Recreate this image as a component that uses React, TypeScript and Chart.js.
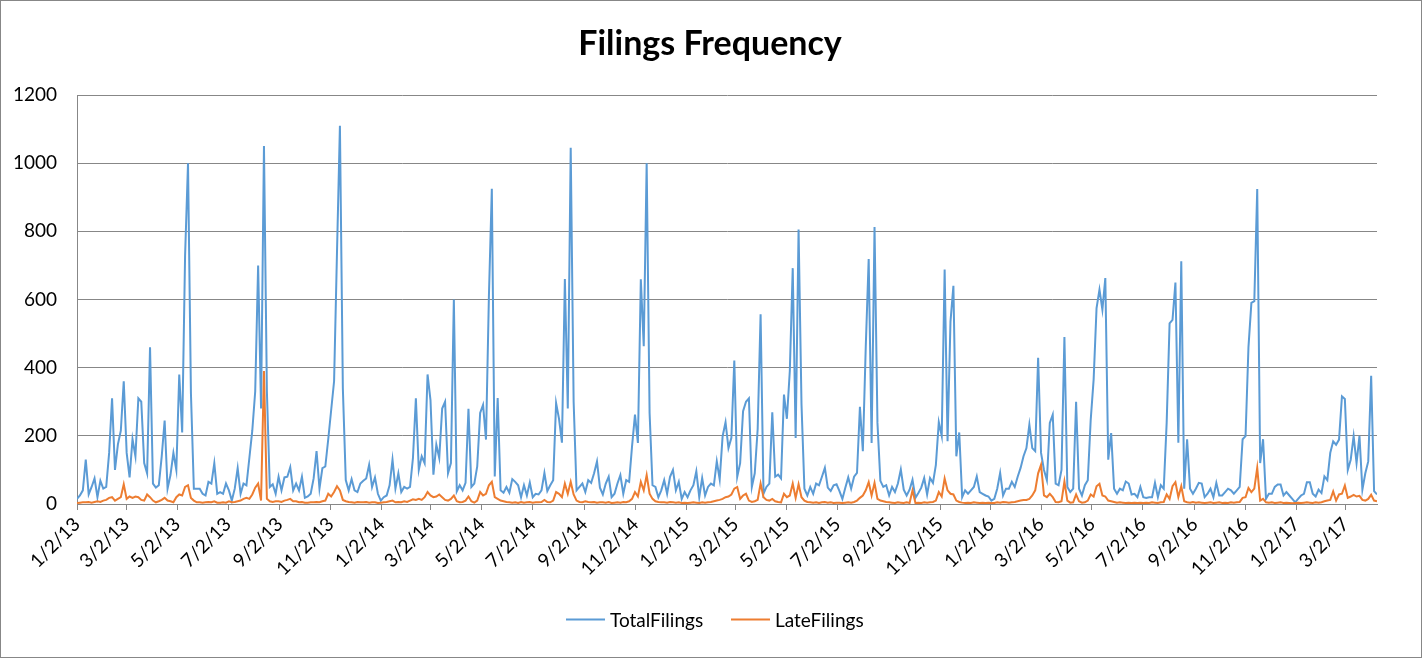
import React, { useEffect, useRef } from 'react';
import { Chart, registerables } from 'chart.js';

Chart.register(...registerables);

const TITLE = 'Filings Frequency';
const SERIES_NAMES = ['TotalFilings', 'LateFilings'];
const SERIES_COLORS = ['#5B9BD5', '#ED7D31'];

// sampling of the daily series (days between samples) and axis end (days after 1/2/13)
const STEP_DAYS = 3.5;
const AXIS_END_DAYS = 1557.5;

const TICK_LABELS = [
  '1/2/13', '3/2/13', '5/2/13', '7/2/13', '9/2/13', '11/2/13',
  '1/2/14', '3/2/14', '5/2/14', '7/2/14', '9/2/14', '11/2/14',
  '1/2/15', '3/2/15', '5/2/15', '7/2/15', '9/2/15', '11/2/15',
  '1/2/16', '3/2/16', '5/2/16', '7/2/16', '9/2/16', '11/2/16',
  '1/2/17', '3/2/17',
];

const Y_TICKS = [0, 200, 400, 600, 800, 1000, 1200];

const TOTAL_FILINGS = [
  15, 25, 40, 130, 28, 50, 75, 20, 68, 45,
  50, 150, 310, 100, 175, 215, 360, 150, 78, 190,
  140, 310, 300, 120, 90, 460, 60, 48, 55, 140,
  245, 45, 85, 150, 100, 380, 210, 730, 1000, 325,
  45, 45, 45, 30, 25, 65, 60, 120, 30, 35,
  30, 60, 40, 10, 45, 105, 30, 60, 55, 135,
  215, 330, 700, 280, 1050, 330, 50, 58, 30, 80,
  40, 78, 80, 108, 40, 60, 40, 80, 18, 22,
  30, 75, 155, 45, 105, 110, 190, 275, 360, 740,
  1110, 340, 70, 40, 73, 40, 35, 60, 68, 75,
  115, 50, 78, 30, 10, 20, 25, 55, 130, 45,
  90, 35, 50, 45, 50, 135, 310, 100, 140, 120,
  380, 305, 86, 174, 135, 280, 300, 90, 120, 600,
  37, 55, 40, 62, 279, 50, 60, 110, 267, 291,
  189, 610, 925, 81, 311, 40, 33, 50, 33, 73,
  65, 55, 20, 55, 25, 63, 20, 30, 28, 40,
  91, 38, 55, 70, 296, 250, 180, 660, 280, 1045,
  300, 40, 50, 60, 35, 70, 62, 90, 125, 48,
  28, 60, 80, 20, 30, 60, 85, 30, 70, 65,
  170, 262, 179, 659, 463, 1000, 267, 55, 50, 20,
  40, 70, 30, 80, 100, 40, 65, 15, 35, 20,
  40, 55, 96, 20, 76, 25, 50, 60, 55, 125,
  72, 199, 240, 164, 194, 421, 80, 120, 272, 300,
  310, 50, 90, 220, 557, 30, 50, 60, 269, 80,
  86, 75, 321, 250, 390, 692, 194, 805, 293, 45,
  25, 50, 30, 60, 55, 80, 106, 48, 38, 55,
  58, 38, 15, 48, 78, 45, 80, 91, 285, 155,
  462, 719, 179, 813, 238, 68, 50, 55, 25, 50,
  35, 60, 101, 42, 25, 42, 71, 18, 32, 48,
  76, 28, 76, 62, 115, 240, 200, 688, 184, 535,
  640, 140, 210, 20, 40, 30, 40, 50, 81, 35,
  30, 25, 22, 10, 15, 45, 91, 25, 45, 45,
  65, 50, 80, 106, 140, 164, 233, 164, 155, 429,
  150, 100, 70, 238, 262, 60, 55, 100, 490, 50,
  35, 45, 300, 45, 25, 55, 70, 247, 365, 575,
  629, 570, 663, 130, 208, 45, 30, 45, 40, 66,
  60, 28, 30, 20, 50, 20, 18, 20, 20, 62,
  20, 55, 45, 238, 530, 540, 650, 180, 712, 45,
  190, 45, 30, 45, 62, 60, 20, 30, 45, 20,
  62, 25, 25, 35, 45, 40, 30, 40, 50, 190,
  199, 460, 590, 595, 924, 120, 190, 15, 30, 30,
  50, 57, 57, 25, 35, 25, 15, 5, 15, 25,
  30, 64, 64, 30, 22, 42, 32, 81, 70, 150,
  184, 174, 189, 316, 308, 100, 130, 199, 120, 200,
  42, 90, 125, 376, 38, 28,
];

const LATE_FILINGS = [
  3, 4, 5, 5, 6, 4, 6, 8, 6, 10,
  12, 18, 20, 10, 15, 20, 58, 15, 22, 18,
  22, 20, 12, 10, 28, 20, 10, 5, 8, 12,
  18, 10, 8, 5, 20, 28, 25, 50, 55, 18,
  10, 5, 5, 4, 5, 6, 5, 8, 4, 4,
  5, 4, 8, 5, 6, 8, 10, 15, 18, 15,
  28, 48, 60, 10, 390, 15, 8, 6, 8, 8,
  6, 10, 12, 15, 8, 8, 5, 6, 4, 4,
  5, 5, 6, 5, 8, 10, 30, 22, 35, 52,
  40, 12, 8, 6, 5, 4, 6, 5, 5, 6,
  4, 5, 5, 3, 4, 5, 6, 8, 10, 5,
  6, 5, 8, 6, 10, 14, 12, 15, 12, 20,
  35, 25, 20, 22, 28, 20, 12, 10, 15, 25,
  8, 5, 6, 10, 22, 8, 4, 10, 35, 25,
  30, 55, 65, 20, 15, 10, 8, 6, 5, 4,
  5, 3, 6, 4, 5, 6, 4, 5, 5, 6,
  12, 6, 5, 10, 35, 30, 20, 60, 30, 65,
  28, 10, 6, 5, 8, 6, 5, 6, 4, 5,
  5, 4, 6, 3, 4, 5, 4, 6, 5, 8,
  15, 35, 22, 65, 40, 85, 30, 15, 8, 6,
  5, 5, 4, 6, 5, 4, 5, 3, 4, 3,
  4, 5, 4, 3, 5, 4, 5, 6, 8, 10,
  12, 15, 20, 22, 28, 45, 50, 15, 25, 30,
  10, 6, 8, 12, 60, 20, 12, 10, 15, 8,
  6, 5, 30, 20, 25, 60, 18, 58, 20, 10,
  6, 5, 4, 5, 3, 5, 6, 4, 5, 3,
  4, 4, 3, 4, 5, 4, 6, 10, 18, 25,
  40, 64, 25, 62, 15, 10, 8, 6, 5, 4,
  3, 5, 4, 3, 5, 3, 40, 3, 4, 3,
  5, 4, 5, 6, 10, 35, 22, 75, 40, 30,
  28, 10, 6, 4, 3, 4, 3, 5, 4, 3,
  4, 3, 4, 3, 3, 5, 4, 6, 5, 4,
  5, 6, 8, 10, 12, 12, 15, 25, 40, 90,
  115, 25, 20, 30, 20, 6, 5, 8, 66, 10,
  4, 5, 28, 8, 4, 5, 10, 28, 22, 52,
  59, 25, 22, 10, 8, 6, 4, 5, 4, 3,
  4, 3, 4, 3, 4, 3, 4, 3, 5, 4,
  3, 5, 6, 28, 15, 52, 64, 20, 52, 8,
  5, 4, 6, 4, 5, 4, 3, 4, 5, 3,
  4, 5, 3, 4, 3, 5, 4, 5, 6, 18,
  20, 47, 35, 45, 106, 10, 15, 5, 4, 5,
  3, 4, 5, 3, 4, 3, 2, 3, 4, 3,
  4, 5, 4, 3, 5, 4, 5, 8, 10, 12,
  37, 10, 28, 30, 54, 18, 22, 27, 22, 24,
  12, 10, 15, 27, 10, 8,
];

const DAY_MS = 86400000;
const parseDay = (label: string) => {
  const [m, d, y] = label.split('/').map(Number);
  return Date.UTC(2000 + y, m - 1, d);
};
const START_MS = parseDay(TICK_LABELS[0]);
const TICK_OFFSETS = TICK_LABELS.map((l) => (parseDay(l) - START_MS) / DAY_MS);

const toPoints = (vals: number[]) => vals.map((v, i) => ({ x: i * STEP_DAYS, y: v }));

const FONT = 'Lato';
const AXIS_GRAY = '#878787';

const decorPlugin = {
  id: 'decor',
  afterDraw(chart: any) {
    const ctx = chart.ctx as CanvasRenderingContext2D;
    ctx.save();
    // chart border
    ctx.strokeStyle = AXIS_GRAY;
    ctx.lineWidth = 1;
    ctx.strokeRect(0.5, 0.5, chart.width - 1, chart.height - 1);
    // title
    ctx.fillStyle = '#000';
    ctx.font = `bold 34px ${FONT}`;
    ctx.textAlign = 'center';
    ctx.textBaseline = 'alphabetic';
    ctx.fillText(TITLE, 710, 55);
    // legend
    ctx.font = `19px ${FONT}`;
    ctx.textAlign = 'left';
    const items = [
      { x: 566, name: SERIES_NAMES[0], color: SERIES_COLORS[0] },
      { x: 731, name: SERIES_NAMES[1], color: SERIES_COLORS[1] },
    ];
    for (const it of items) {
      ctx.strokeStyle = it.color;
      ctx.lineWidth = 2;
      ctx.beginPath();
      ctx.moveTo(it.x, 619.5);
      ctx.lineTo(it.x + 39, 619.5);
      ctx.stroke();
      ctx.fillStyle = '#000';
      ctx.fillText(it.name, it.x + 44, 627);
    }
    ctx.restore();
  },
};

export default function App() {
  const canvasRef = useRef<HTMLCanvasElement | null>(null);

  useEffect(() => {
    document.body.style.margin = '0';
    const canvas = canvasRef.current;
    if (!canvas) return;
    const chart = new Chart(canvas, {
      type: 'line',
      data: {
        datasets: [
          {
            label: SERIES_NAMES[0],
            data: toPoints(TOTAL_FILINGS),
            borderColor: SERIES_COLORS[0],
            backgroundColor: SERIES_COLORS[0],
            borderWidth: 2,
            pointRadius: 0,
            tension: 0,
            order: 1,
          },
          {
            label: SERIES_NAMES[1],
            data: toPoints(LATE_FILINGS),
            borderColor: SERIES_COLORS[1],
            backgroundColor: SERIES_COLORS[1],
            borderWidth: 2,
            pointRadius: 0,
            tension: 0,
            order: 0,
          },
        ],
      },
      options: {
        animation: false,
        responsive: false,
        maintainAspectRatio: false,
        layout: { padding: { top: 95, right: 45, left: 0, bottom: 0 } },
        plugins: {
          legend: { display: false },
          title: { display: false },
          tooltip: { enabled: false },
        },
        scales: {
          x: {
            type: 'linear',
            min: 0,
            max: AXIS_END_DAYS,
            afterBuildTicks: (scale: any) => {
              scale.ticks = TICK_OFFSETS.map((v) => ({ value: v }));
            },
            afterFit: (scale: any) => {
              scale.height = 154;
            },
            ticks: {
              autoSkip: false,
              maxRotation: 45,
              minRotation: 45,
              padding: 3,
              color: '#000',
              font: { family: FONT, size: 19 },
              callback: (_v: any, index: number) => TICK_LABELS[index],
            },
            grid: {
              drawOnChartArea: false,
              drawTicks: true,
              tickLength: 6,
              color: AXIS_GRAY,
            },
            border: { color: AXIS_GRAY, width: 1 },
          },
          y: {
            min: 0,
            max: 1200,
            afterBuildTicks: (scale: any) => {
              scale.ticks = Y_TICKS.map((v) => ({ value: v }));
            },
            afterFit: (scale: any) => {
              scale.width = 77;
            },
            ticks: {
              padding: 20,
              color: '#000',
              font: { family: FONT, size: 19 },
              callback: (v: any) => String(v),
            },
            grid: { color: AXIS_GRAY, drawTicks: false },
            border: { color: AXIS_GRAY, width: 1 },
          },
        },
      },
      plugins: [decorPlugin],
    });
    return () => chart.destroy();
  }, []);

  return (
    <div style={{ position: 'absolute', left: 0, top: 0, width: 1422, height: 658, background: '#fff' }}>
      <canvas ref={canvasRef} width={1422} height={658} style={{ display: 'block' }} />
    </div>
  );
}
